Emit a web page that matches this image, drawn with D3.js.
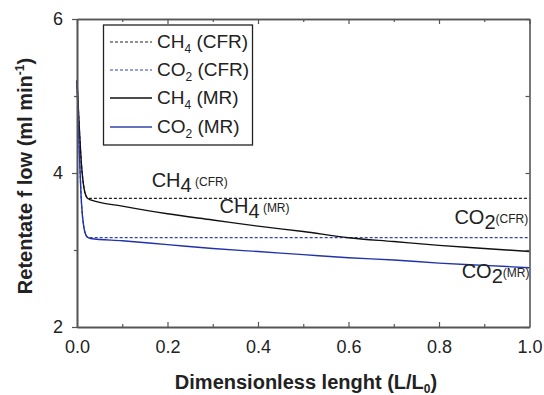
<!DOCTYPE html>
<html><head><meta charset="utf-8">
<script src="https://cdn.jsdelivr.net/npm/d3@7"></script>
<style>body{margin:0;background:#fff}svg{display:block;font-family:"Liberation Sans",Arial,sans-serif}</style>
</head><body>
<script>
const xVals = [0, 0.005, 0.01, 0.015, 0.02, 0.025, 0.03, 0.1, 0.2, 0.3, 0.4, 0.5, 0.6, 0.7, 0.8, 0.9, 1.0];
const ch4CFR = [5.2, 4.6, 4.1, 3.82, 3.70, 3.67, 3.67, 3.67, 3.67, 3.67, 3.67, 3.67, 3.67, 3.67, 3.67, 3.67, 3.67];
const co2CFR = [5.2, 4.3, 3.6, 3.3, 3.19, 3.16, 3.16, 3.16, 3.16, 3.16, 3.16, 3.16, 3.16, 3.16, 3.16, 3.16, 3.16];
const ch4MR  = [5.2, 4.6, 4.1, 3.82, 3.70, 3.665, 3.65, 3.57, 3.47, 3.39, 3.31, 3.24, 3.16, 3.11, 3.06, 3.02, 2.98];
const co2MR  = [5.2, 4.3, 3.6, 3.3, 3.19, 3.16, 3.15, 3.12, 3.07, 3.02, 2.98, 2.94, 2.90, 2.87, 2.83, 2.80, 2.77];
const xTicks = [0, 0.2, 0.4, 0.6, 0.8, 1.0];
const xMinor = [0.1, 0.3, 0.5, 0.7, 0.9];
const yTicks = [2, 4, 6];
const yMinor = [3, 5];
const legendLabels = [["CH","4"," (CFR)"],["CO","2"," (CFR)"],["CH","4"," (MR)"],["CO","2"," (MR)"]];

const W = 544, H = 395;
const svg = d3.select("body").append("svg").attr("width", W).attr("height", H);
const x = d3.scaleLinear().domain([0, 1]).range([77, 529.5]);
const y = d3.scaleLinear().domain([2, 6]).range([327, 19]);

const series = [
  {v: ch4CFR, color: "#222", dash: "3,2", w: 1.2},
  {v: co2CFR, color: "#3344aa", dash: "3,2", w: 1.2},
  {v: ch4MR, color: "#111", dash: null, w: 1.4},
  {v: co2MR, color: "#2233aa", dash: null, w: 1.4}
];
const line = d3.line().x(d => x(d[0])).y(d => y(d[1])).curve(d3.curveMonotoneX);
series.forEach(s => {
  svg.append("path").datum(xVals.map((xv, i) => [xv, s.v[i]]))
    .attr("d", line).attr("fill", "none").attr("stroke", s.color)
    .attr("stroke-width", s.w).attr("stroke-dasharray", s.dash);
});

// axes
const axisColor = "#555";
const gB = svg.append("g").attr("transform", `translate(0,${y(2)})`)
  .call(d3.axisBottom(x).tickValues(xTicks).tickFormat(d3.format(".1f")).tickSizeInner(-5).tickSizeOuter(0).tickPadding(13));
gB.selectAll(".tick").filter(d => d === 0 || d === 1).select("line").remove();
const gBm = svg.append("g").attr("transform", `translate(0,${y(2)})`)
  .call(d3.axisBottom(x).tickValues(xMinor).tickFormat("").tickSizeInner(-3).tickSizeOuter(0));
const gT = svg.append("g").attr("transform", `translate(0,${y(6)})`)
  .call(d3.axisTop(x).tickValues(xTicks).tickFormat("").tickSizeInner(-5).tickSizeOuter(0));
const gTm = svg.append("g").attr("transform", `translate(0,${y(6)})`)
  .call(d3.axisTop(x).tickValues(xMinor).tickFormat("").tickSizeInner(-3).tickSizeOuter(0));
const gL = svg.append("g").attr("transform", `translate(${x(0)},0)`)
  .call(d3.axisLeft(y).tickValues(yTicks).tickFormat(d3.format("d")).tickSizeInner(5).tickSizeOuter(0).tickPadding(9));
const gLm = svg.append("g").attr("transform", `translate(${x(0)},0)`)
  .call(d3.axisLeft(y).tickValues(yMinor).tickFormat("").tickSizeInner(3).tickSizeOuter(0));
const gR = svg.append("g").attr("transform", `translate(${x(1)},0)`)
  .call(d3.axisRight(y).tickValues(yTicks.concat(yMinor)).tickFormat("").tickSizeInner(-4).tickSizeOuter(0));
[gB, gBm, gT, gTm, gL, gLm, gR].forEach(g => {
  g.select(".domain").attr("stroke", axisColor).attr("stroke-width", 1.6);
  g.selectAll(".tick line").attr("stroke", axisColor).attr("stroke-width", 1.2);
  g.selectAll("text").attr("font-size", 18).attr("fill", "#222").attr("font-family", "Liberation Sans, Arial, sans-serif");
});
gB.select(".domain").attr("stroke", "#222");

// axis titles
const xt = svg.append("text").attr("x", 306).attr("y", 389).attr("text-anchor", "middle")
  .attr("font-size", 20).attr("font-weight", "bold").attr("fill", "#222");
xt.append("tspan").text("Dimensionless lenght (L/L");
xt.append("tspan").text("0").attr("font-size", 12).attr("dy", 4);
xt.append("tspan").text(")").attr("dy", -4);

const yt = svg.append("text").attr("transform", "translate(32,176) rotate(-90)").attr("text-anchor", "middle")
  .attr("font-size", 20).attr("font-weight", "bold").attr("fill", "#222");
yt.append("tspan").text("Retentate f low (ml min");
yt.append("tspan").text("-1").attr("font-size", 12).attr("dy", -8);
yt.append("tspan").text(")").attr("dy", 8);

// legend
svg.append("rect").attr("x", 103.5).attr("y", 25).attr("width", 149).attr("height", 120)
  .attr("fill", "#fff").attr("stroke", "#222").attr("stroke-width", 1.3);
const ly = [42, 70, 98, 127];
series.forEach((s, i) => {
  svg.append("line").attr("x1", 110).attr("x2", 152).attr("y1", ly[i]).attr("y2", ly[i])
    .attr("stroke", i === 3 ? "#3344aa" : s.color).attr("stroke-width", s.w).attr("stroke-dasharray", s.dash);
  const t = svg.append("text").attr("x", 157).attr("y", ly[i] + 6).attr("font-size", 19).attr("fill", "#222");
  t.append("tspan").text(legendLabels[i][0]);
  t.append("tspan").text(legendLabels[i][1]).attr("font-size", 12).attr("dy", 5);
  t.append("tspan").text(legendLabels[i][2]).attr("dy", -5);
});

// annotations
function annot(px, py, big, sub, small) {
  const t = svg.append("text").attr("x", px).attr("y", py).attr("fill", "#222").attr("font-size", 20);
  t.append("tspan").text(big);
  t.append("tspan").text(sub).attr("dy", 5);
  t.append("tspan").text(small).attr("font-size", 12).attr("dy", -6);
}
annot(x(0.165), y(3.82), "CH", "4", " (CFR)");
annot(x(0.315), y(3.48), "CH", "4", " (MR)");
annot(x(0.834), y(3.34), "CO", "2", "(CFR)");
annot(x(0.85), y(2.64), "CO", "2", "(MR)");
</script>
</body></html>
